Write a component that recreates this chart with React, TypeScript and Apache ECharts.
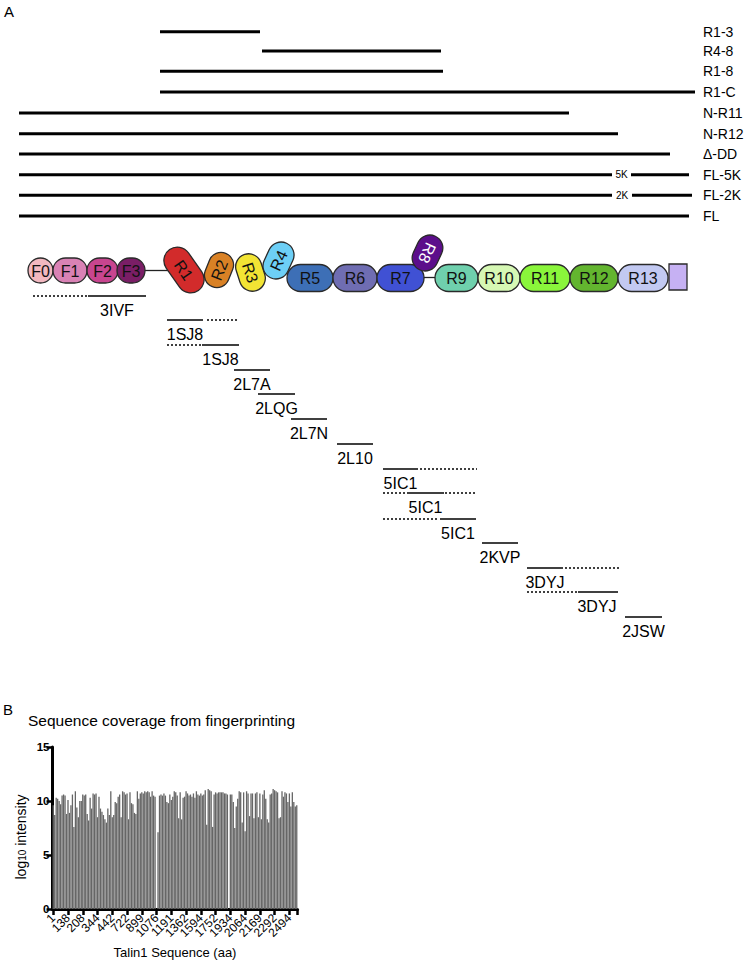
import React, { useEffect, useRef } from 'react';
import * as echarts from 'echarts';

const FONT = '"Liberation Sans", Arial, Helvetica, sans-serif';

// ---------- Panel A : constructs (diagram units along the talin rod) ----------
const constructNames = ['R1-3', 'R4-8', 'R1-8', 'R1-C', 'N-R11', 'N-R12', 'Δ-DD', 'FL-5K', 'FL-2K', 'FL'];
const constructStart = [160, 262, 160, 160, 19, 19, 19, 19, 19, 19];
const constructEnd = [260, 441, 443, 695, 569, 618, 670, 689, 692, 689];
const constructRow = [31.7, 51, 71.3, 92, 113, 133.7, 154, 174.7, 195.3, 216];
const constructBreakText = ['', '', '', '', '', '', '', '5K', '2K', ''];
const constructBreakFrom = [0, 0, 0, 0, 0, 0, 0, 612, 612, 0];
const constructBreakTo = [0, 0, 0, 0, 0, 0, 0, 631, 632, 0];
const constructLabelAt = 703;

// ---------- Panel A : domain cartoon ----------
const domainNames = ['F0', 'F1', 'F2', 'F3', 'R1', 'R2', 'R3', 'R4', 'R5', 'R6', 'R7', 'R8', 'R9', 'R10', 'R11', 'R12', 'R13', ''];
const domainCenterX = [40.5, 70, 102.5, 131, 184, 219, 250.5, 278.5, 310, 355, 400.5, 427.5, 456.5, 499, 545, 594, 643, 678];
const domainCenterY = [270.5, 270.5, 270.5, 270.5, 270, 270, 272.5, 260.5, 278, 278, 278, 253, 278, 278, 278, 278, 278, 277];
const domainLength = [25, 34, 31, 28, 50, 36, 38, 38, 46, 44, 47, 37, 43, 42, 50, 48, 50, 18];
const domainThickness = [25, 25, 25, 25, 27, 25, 26, 26, 27, 27, 27, 26, 27, 27, 27, 27, 27, 26];
const domainAngle = [0, 0, 0, 0, -55, 68, -72, 65, 0, 0, 0, -115, 0, 0, 0, 0, 0, 0];
const domainColors = ['#f2b8c0', '#d982b5', '#c8458f', '#7a1e66', '#d22b2b', '#d98125', '#f2e434', '#6dcff6', '#3d6fb6', '#6f6db2', '#4051d4', '#5c0e8b', '#6fd0ad', '#d6f8b4', '#8af53b', '#63b52f', '#c2c9f2', '#c6b1f3'];
const domainTextColors = ['#111', '#111', '#111', '#111', '#111', '#111', '#111', '#111', '#111', '#111', '#111', '#fff', '#111', '#111', '#111', '#111', '#111', '#111'];
const linkerFrom = [145, 424];
const linkerTo = [168, 436];
const linkerRow = [270.5, 277.5];

// ---------- Panel A : PDB structures ----------
const pdbIds = ['3IVF', '1SJ8', '1SJ8', '2L7A', '2LQG', '2L7N', '2L10', '5IC1', '5IC1', '5IC1', '2KVP', '3DYJ', '3DYJ', '2JSW'];
const pdbSolidFrom = [88, 167, 202, 234, 258, 291, 337, 383, 407, 440, 482, 527, 578, 625];
const pdbSolidTo = [146, 203, 239, 270, 295, 327, 373, 418, 444, 476, 518, 563, 616, 662];
const pdbRow = [296, 320, 345, 370, 394, 419, 444, 469, 493, 519, 543, 568, 592, 617];
const pdbDotted = [
  [[33, 88]], [[207, 239]], [[167, 202]], [], [], [], [],
  [[420, 477]], [[383, 407], [445, 477]], [[383, 439]], [],
  [[565, 620]], [[527, 578], [616, 620]], [],
];

// ---------- Panel B : sequence coverage ----------
const tickLabels = ['1', '138', '208', '344', '442', '722', '899', '1076', '1191', '1362', '1594', '1752', '1934', '2064', '2169', '2292', '2494'];
const intensities = [
  9.6, 8.7, 10.3, 10.2, 10.0, 9.7, 10.5, 10.6, 10.5, 8.8,
  10.1, 8.9, 9.6, 10.6, 7.6, 10.9, 9.4, 8.5, 10.0, 10.0,
  10.6, 10.5, 10.6, 8.8, 8.2, 10.3, 9.3, 10.7, 10.6, 10.7,
  8.5, 10.4, 9.3, 9.0, 8.7, 8.3, 8.0, 9.3, 8.7, 10.9,
  8.5, 8.7, 9.9, 9.8, 10.4, 10.6, 8.5, 10.9, 10.8, 10.6,
  10.7, 8.3, 10.8, 9.8, 9.7, 8.9, 8.8, 10.9, 10.2, 10.7,
  10.8, 10.7, 10.9, 10.8, 10.9, 10.8, 10.4, 10.9, 10.5, 10.4,
  0, 7.1, 10.5, 10.6, 10.5, 10.7, 10.5, 9.9, 9.8, 10.6,
  10.1, 10.4, 10.9, 10.8, 10.5, 8.4, 10.8, 8.3, 10.3, 10.4,
  10.9, 10.7, 10.5, 10.6, 10.4, 10.7, 10.3, 10.9, 10.6, 10.5,
  10.7, 10.5, 10.6, 11.0, 7.8, 11.1, 11.0, 10.9, 7.6, 10.6,
  10.8, 10.7, 10.8, 10.8, 10.8, 10.8, 10.7, 10.7, 10.6, 0,
  10.6, 10.6, 9.9, 7.5, 9.5, 10.2, 10.9, 10.8, 8.0, 10.8,
  7.2, 10.9, 10.7, 8.6, 10.7, 10.7, 8.4, 10.7, 10.8, 8.5,
  10.7, 8.3, 10.6, 11.0, 10.2, 8.3, 8.0, 10.6, 10.7, 11.1,
  11.0, 10.9, 10.8, 8.4, 8.5, 10.9, 10.4, 10.8, 10.7, 9.9,
  10.7, 9.5, 10.8, 9.9, 9.5, 9.6,
];
const categories = intensities.map((_, i) => String(i));
const labelEvery = 10;

function buildOption(): any {
  const constructsSeries = {
    type: 'custom',
    xAxisIndex: 0,
    yAxisIndex: 0,
    clip: false,
    silent: true,
    data: constructNames.map((_, i) => [constructStart[i], constructEnd[i], constructRow[i]]),
    renderItem: (params: any, api: any) => {
      const i = params.dataIndex;
      const y = api.value(2);
      const a = api.coord([api.value(0), y]);
      const b = api.coord([api.value(1), y]);
      const lab = api.coord([constructLabelAt, y]);
      const lineStyle = { stroke: '#000', lineWidth: 3 };
      const children: any[] = [];
      if (constructBreakText[i]) {
        const b0 = api.coord([constructBreakFrom[i], y]);
        const b1 = api.coord([constructBreakTo[i], y]);
        children.push({ type: 'line', shape: { x1: a[0], y1: a[1], x2: b0[0], y2: b0[1] }, style: lineStyle });
        children.push({ type: 'line', shape: { x1: b1[0], y1: b1[1], x2: b[0], y2: b[1] }, style: lineStyle });
        children.push({
          type: 'text',
          style: { text: constructBreakText[i], x: (b0[0] + b1[0]) / 2, y: a[1], align: 'center', verticalAlign: 'middle', fontSize: 10, fontFamily: FONT, fill: '#000' },
        });
      } else {
        children.push({ type: 'line', shape: { x1: a[0], y1: a[1], x2: b[0], y2: b[1] }, style: lineStyle });
      }
      children.push({
        type: 'text',
        style: { text: constructNames[i], x: lab[0], y: lab[1], align: 'left', verticalAlign: 'middle', fontSize: 14, fontFamily: FONT, fill: '#000' },
      });
      return { type: 'group', children };
    },
  };

  const linkerSeries = {
    type: 'custom',
    xAxisIndex: 0,
    yAxisIndex: 0,
    clip: false,
    silent: true,
    data: linkerFrom.map((_, i) => [linkerFrom[i], linkerTo[i], linkerRow[i]]),
    renderItem: (params: any, api: any) => {
      const a = api.coord([api.value(0), api.value(2)]);
      const b = api.coord([api.value(1), api.value(2)]);
      return { type: 'line', shape: { x1: a[0], y1: a[1], x2: b[0], y2: b[1] }, style: { stroke: '#222', lineWidth: 1.3 } };
    },
  };

  const domainSeries = {
    type: 'custom',
    xAxisIndex: 0,
    yAxisIndex: 0,
    clip: false,
    silent: true,
    data: domainNames.map((_, i) => [domainCenterX[i], domainCenterY[i], domainLength[i], domainThickness[i], domainAngle[i]]),
    renderItem: (params: any, api: any) => {
      const i = params.dataIndex;
      const c = api.coord([api.value(0), api.value(1)]);
      const sz = api.size([api.value(2), api.value(3)]);
      const L = Math.abs(sz[0]);
      const T = Math.abs(sz[1]);
      const isBox = domainNames[i] === '';
      const children: any[] = [
        {
          type: 'rect',
          shape: { x: -L / 2, y: -T / 2, width: L, height: T, r: isBox ? 0 : Math.min(L, T) / 2 },
          style: { fill: domainColors[i], stroke: '#2a2a2a', lineWidth: 1.3 },
        },
      ];
      if (!isBox) {
        children.push({
          type: 'text',
          style: { text: domainNames[i], x: 0, y: 0.5, align: 'center', verticalAlign: 'middle', fontSize: 16, fontFamily: FONT, fill: domainTextColors[i] },
        });
      }
      return { type: 'group', x: c[0], y: c[1], rotation: (api.value(4) * Math.PI) / 180, children };
    },
  };

  const pdbSeries = {
    type: 'custom',
    xAxisIndex: 0,
    yAxisIndex: 0,
    clip: false,
    silent: true,
    data: pdbIds.map((_, i) => [pdbSolidFrom[i], pdbSolidTo[i], pdbRow[i]]),
    renderItem: (params: any, api: any) => {
      const i = params.dataIndex;
      const y = api.value(2);
      const a = api.coord([api.value(0), y]);
      const b = api.coord([api.value(1), y]);
      const children: any[] = [
        { type: 'line', shape: { x1: a[0], y1: a[1], x2: b[0], y2: b[1] }, style: { stroke: '#000', lineWidth: 1.5 } },
      ];
      pdbDotted[i].forEach((seg) => {
        const d0 = api.coord([seg[0], y]);
        const d1 = api.coord([seg[1], y]);
        children.push({
          type: 'line',
          shape: { x1: d0[0], y1: d0[1], x2: d1[0], y2: d1[1] },
          style: { stroke: '#000', lineWidth: 1.5, lineDash: [2, 2] },
        });
      });
      children.push({
        type: 'text',
        style: { text: pdbIds[i], x: (a[0] + b[0]) / 2, y: a[1] + 14.5, align: 'center', verticalAlign: 'middle', fontSize: 16, fontFamily: FONT, fill: '#000' },
      });
      return { type: 'group', children };
    },
  };

  const axisBlack = { color: '#000', width: 3 };

  return {
    animation: false,
    backgroundColor: '#ffffff',
    title: [
      { text: 'A', left: 4, top: 4, padding: 0, textStyle: { fontFamily: FONT, fontSize: 15, fontWeight: 'normal', color: '#000' } },
      { text: 'B', left: 3, top: 702, padding: 0, textStyle: { fontFamily: FONT, fontSize: 15, fontWeight: 'normal', color: '#000' } },
      { text: 'Sequence coverage from fingerprinting', left: 28, top: 712, padding: 0, textStyle: { fontFamily: FONT, fontSize: 15.5, fontWeight: 'normal', color: '#000' } },
    ],
    grid: [
      { left: 0, top: 0, width: 744, height: 670, outerBoundsMode: 'none' },
      { left: 52.5, top: 747, width: 245, height: 162, outerBoundsMode: 'none' },
    ],
    xAxis: [
      { gridIndex: 0, type: 'value', min: 0, max: 744, show: false },
      {
        gridIndex: 1,
        type: 'category',
        data: categories,
        boundaryGap: true,
        axisLine: { lineStyle: axisBlack },
        axisTick: { show: true, interval: labelEvery - 1, alignWithLabel: true, length: 6, lineStyle: { color: '#000', width: 2.5 } },
        axisLabel: {
          interval: 0,
          hideOverlap: false,
          rotate: 45,
          margin: 7,
          fontSize: 12,
          fontFamily: FONT,
          color: '#000',
          formatter: (_v: string, idx: number) => (idx % labelEvery === 0 ? tickLabels[idx / labelEvery] || '' : ''),
        },
        name: 'Talin1 Sequence (aa)',
        nameLocation: 'middle',
        nameGap: 37,
        nameTextStyle: { fontFamily: FONT, fontSize: 13, color: '#000' },
      },
    ],
    yAxis: [
      { gridIndex: 0, type: 'value', min: 0, max: 670, inverse: true, show: false },
      {
        gridIndex: 1,
        type: 'value',
        min: 0,
        max: 15,
        interval: 5,
        axisLine: { show: true, lineStyle: axisBlack },
        axisTick: { show: true, length: 6, lineStyle: { color: '#000', width: 2.5 } },
        splitLine: { show: false },
        axisLabel: { fontSize: 11.5, fontWeight: 'bold', fontFamily: FONT, color: '#000', margin: 3 },
        name: 'log{sub|10} intensity',
        nameLocation: 'middle',
        nameRotate: 90,
        nameGap: 25,
        nameTextStyle: {
          fontFamily: FONT,
          fontSize: 14,
          color: '#000',
          padding: [0, 18, 0, 0],
          rich: { sub: { fontFamily: FONT, fontSize: 10, color: '#000', verticalAlign: 'bottom' } },
        },
      },
    ],
    series: [
      constructsSeries,
      linkerSeries,
      domainSeries,
      pdbSeries,
      {
        type: 'bar',
        xAxisIndex: 1,
        yAxisIndex: 1,
        data: intensities,
        barCategoryGap: '12%',
        silent: true,
        itemStyle: { color: '#666666' },
      },
    ],
  };
}

export default function App() {
  const ref = useRef<HTMLDivElement>(null);
  useEffect(() => {
    document.body.style.margin = '0';
    if (!ref.current) return;
    const chart = echarts.init(ref.current, undefined, { renderer: 'svg' });
    chart.setOption(buildOption());
    return () => chart.dispose();
  }, []);
  return <div ref={ref} style={{ width: 744, height: 967, background: '#fff' }} />;
}
